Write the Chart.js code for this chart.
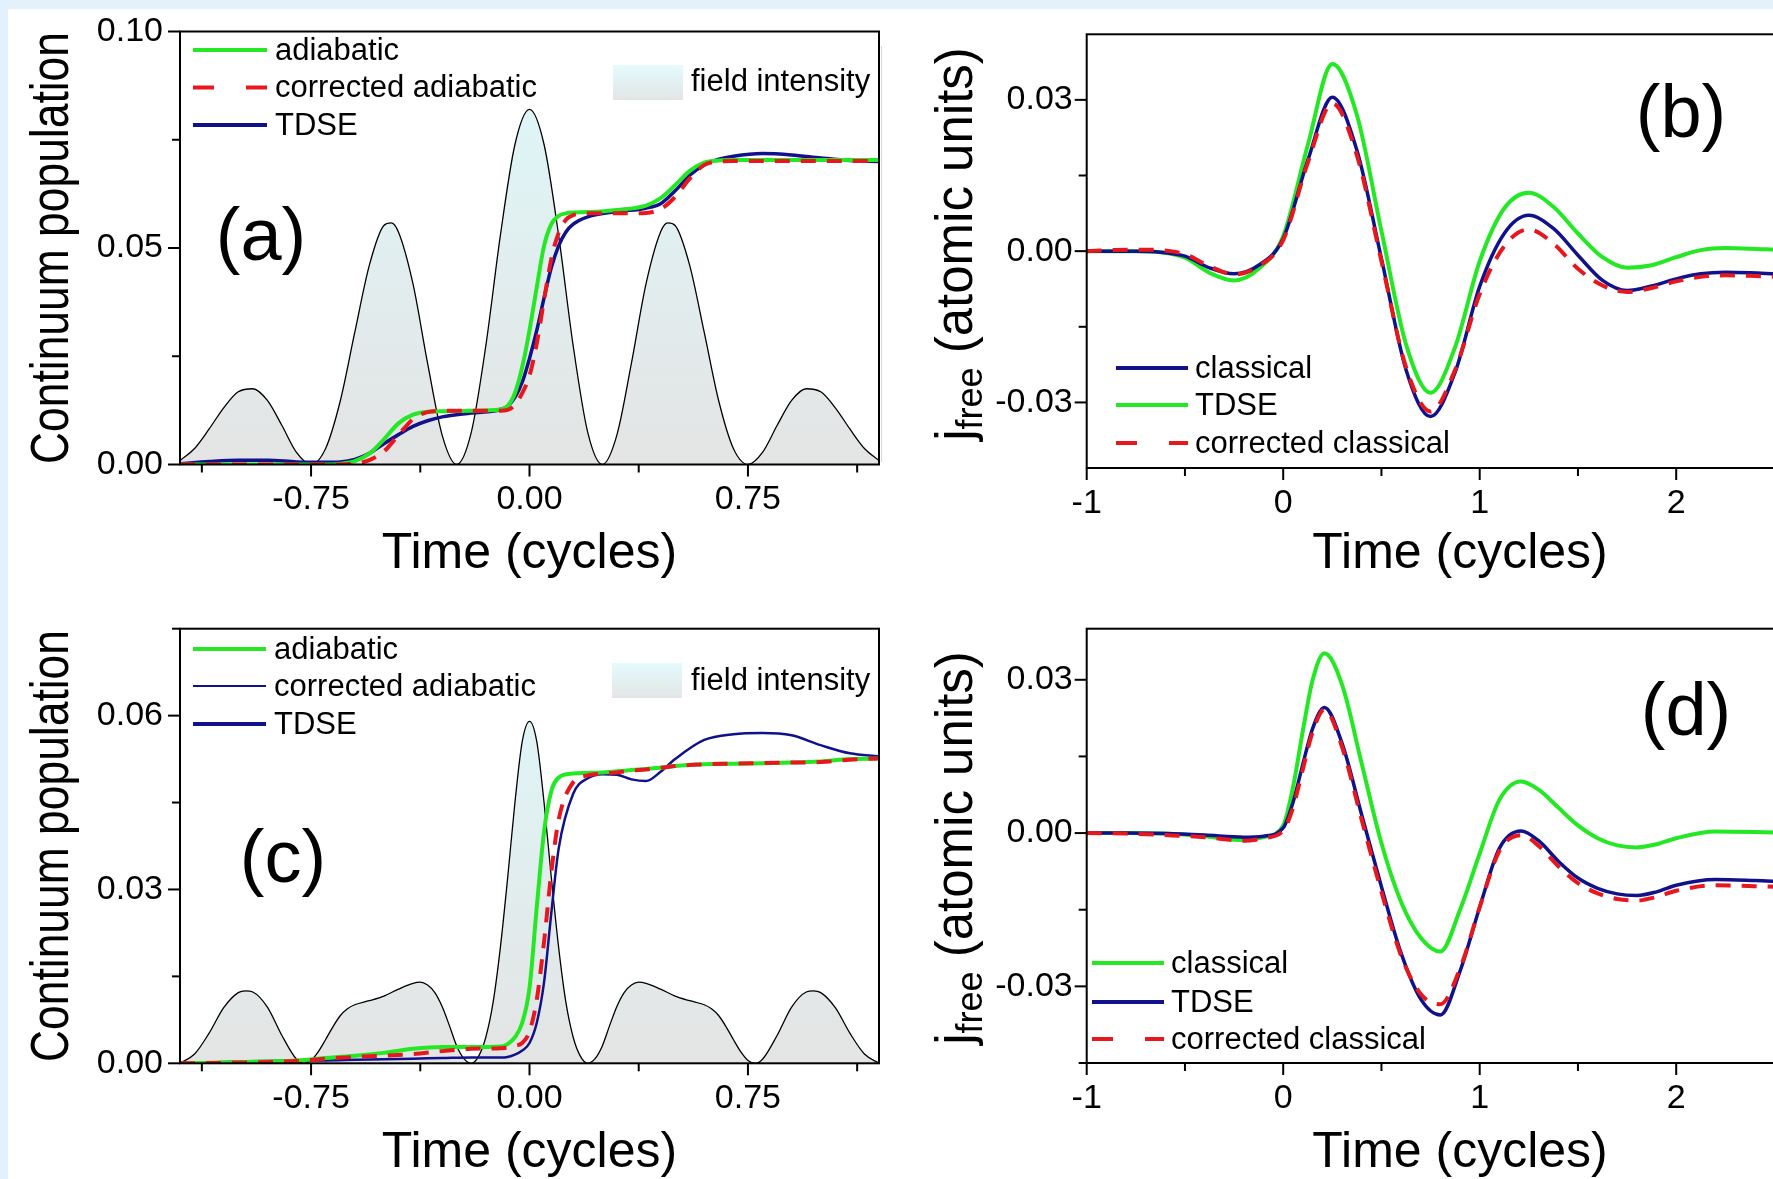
<!DOCTYPE html>
<html>
<head>
<meta charset="utf-8">
<title>Continuum population and free-electron current</title>
<script src="https://cdn.jsdelivr.net/npm/chart.js@4.4.1/dist/chart.umd.min.js"></script>
<style>
  html, body { margin:0; padding:0; }
  body { width:1773px; height:1179px; overflow:hidden; position:relative; background:#e2f1fb; }
  #paper { position:absolute; left:8px; top:9px; right:0; bottom:0; background:#ffffff; }
  #edge { position:absolute; left:881px; top:46px; width:1px; height:416px; background:#d8d8d8; }
  canvas { position:absolute; }
</style>
</head>
<body>
<div id="paper"></div>
<div id="edge"></div>
<canvas id="panelA" width="900" height="590" style="left:0px;top:0px"></canvas>
<canvas id="panelB" width="970" height="590" style="left:880px;top:0px"></canvas>
<canvas id="panelC" width="900" height="600" style="left:0px;top:590px"></canvas>
<canvas id="panelD" width="970" height="600" style="left:880px;top:590px"></canvas>
<script>
// ================= DATA =================
// ---- panel (a): continuum population ----
const timeA = [-1.2,-1.1,-1.0,-0.9,-0.8,-0.7,-0.65,-0.6,-0.55,-0.5,-0.45,-0.4,-0.35,-0.3,-0.2,-0.1,-0.075,-0.05,-0.025,0,0.025,0.05,0.075,0.1,0.125,0.15,0.2,0.3,0.4,0.45,0.5,0.55,0.6,0.65,0.7,0.8,0.9,1.0,1.1,1.2];
const adiabaticA = [0,0,0,0,0,0,0.0002,0.0008,0.0025,0.0058,0.0095,0.0115,0.0122,0.0123,0.0124,0.0127,0.0135,0.0165,0.0225,0.031,0.041,0.0505,0.0555,0.0574,0.058,0.0582,0.0583,0.0588,0.0598,0.0615,0.0645,0.0678,0.0697,0.0702,0.0703,0.0703,0.0703,0.0703,0.0703,0.0703];
const correctedAdiabaticA = [0,0,0,0,0,0,0,0.0002,0.001,0.003,0.0068,0.0105,0.0121,0.0124,0.0124,0.0124,0.0126,0.0138,0.0165,0.0205,0.028,0.038,0.0475,0.0535,0.0565,0.0576,0.058,0.058,0.0581,0.059,0.0618,0.066,0.0692,0.07,0.0701,0.0701,0.0701,0.0701,0.0701,0.0701];
const tdseA = [0.0002,0.0007,0.001,0.001,0.0006,0.0005,0.0006,0.0012,0.0026,0.0048,0.0069,0.0088,0.0101,0.011,0.0119,0.0127,0.0135,0.0155,0.019,0.0245,0.031,0.0385,0.0455,0.0505,0.0537,0.0555,0.0572,0.0584,0.0592,0.0602,0.0632,0.0668,0.0692,0.0705,0.0712,0.0718,0.0715,0.0708,0.0702,0.07];
const fieldTimeA = [-1.2,-1.15,-1.1,-1.05,-1.0,-0.95,-0.9,-0.85,-0.8,-0.75,-0.7,-0.65,-0.6,-0.55,-0.5,-0.475,-0.45,-0.4,-0.35,-0.3,-0.25,-0.2,-0.15,-0.1,-0.05,0,0.05,0.1,0.15,0.2,0.25,0.3,0.35,0.4,0.45,0.475,0.5,0.55,0.6,0.65,0.7,0.75,0.8,0.85,0.9,0.95,1.0,1.05,1.1,1.15,1.2];
const fieldA = [0.0009,0.0037,0.0082,0.0131,0.0168,0.0175,0.0148,0.009,0.0028,0,0.0037,0.0146,0.0305,0.046,0.0552,0.0558,0.0537,0.0417,0.0234,0.0068,0,0.0074,0.0274,0.0529,0.0739,0.082,0.0739,0.0529,0.0274,0.0074,0,0.0068,0.0234,0.0417,0.0537,0.0558,0.0552,0.046,0.0305,0.0146,0.0037,0,0.0028,0.009,0.0148,0.0175,0.0168,0.0131,0.0082,0.0037,0.0009];

// ---- panel (c): continuum population ----
const timeC = [-1.2,-1.0,-0.8,-0.7,-0.6,-0.5,-0.4,-0.3,-0.2,-0.1,-0.075,-0.05,-0.025,0,0.025,0.05,0.075,0.1,0.15,0.2,0.25,0.3,0.35,0.4,0.45,0.5,0.6,0.7,0.8,0.9,1.0,1.1,1.2];
const adiabaticC = [0,0.0002,0.0005,0.0009,0.0013,0.0018,0.0025,0.0028,0.0028,0.0029,0.0033,0.0045,0.007,0.013,0.027,0.040,0.047,0.0493,0.05,0.0501,0.0502,0.0504,0.0506,0.0508,0.051,0.0513,0.0516,0.0517,0.0518,0.0519,0.0521,0.0525,0.0526];
const correctedAdiabaticC = [0,0.0001,0.0004,0.0008,0.0011,0.0013,0.0016,0.0021,0.0025,0.0026,0.0027,0.003,0.0035,0.0055,0.011,0.021,0.033,0.042,0.0485,0.0497,0.05,0.0502,0.0505,0.0507,0.051,0.0513,0.0516,0.0517,0.0518,0.0519,0.052,0.0524,0.0526];
const tdseC = [0,0.0003,0.0005,0.0005,0.0006,0.0007,0.0008,0.0009,0.001,0.001,0.0011,0.0015,0.0022,0.0035,0.007,0.014,0.026,0.037,0.0465,0.0492,0.0499,0.0498,0.049,0.0487,0.0503,0.0525,0.0558,0.0568,0.057,0.0566,0.0549,0.0535,0.053];
const fieldTimeC = [-1.2,-1.15,-1.1,-1.05,-1.0,-0.975,-0.95,-0.9,-0.85,-0.8,-0.775,-0.75,-0.725,-0.7,-0.675,-0.65,-0.625,-0.6,-0.55,-0.5,-0.45,-0.4,-0.375,-0.35,-0.325,-0.3,-0.275,-0.25,-0.225,-0.2,-0.175,-0.15,-0.125,-0.1,-0.075,-0.05,-0.025,0,0.025,0.05,0.075,0.1,0.125,0.15,0.175,0.2,0.225,0.25,0.275,0.3,0.325,0.35,0.375,0.4,0.45,0.5,0.55,0.6,0.625,0.65,0.675,0.7,0.725,0.75,0.775,0.8,0.85,0.9,0.95,0.975,1.0,1.05,1.1,1.15,1.2];
const fieldC = [0,0.0016,0.0052,0.0096,0.0122,0.0125,0.0123,0.0097,0.0048,0.0007,0,0.0005,0.002,0.0041,0.0063,0.0082,0.0094,0.0101,0.0108,0.0116,0.0128,0.0138,0.014,0.0135,0.0122,0.0098,0.0065,0.003,0.0008,0,0.0012,0.0045,0.0105,0.02,0.032,0.045,0.0555,0.059,0.0555,0.045,0.032,0.02,0.0105,0.0045,0.0012,0,0.0008,0.003,0.0065,0.0098,0.0122,0.0135,0.014,0.0138,0.0128,0.0116,0.0108,0.0101,0.0094,0.0082,0.0063,0.0041,0.002,0.0005,0,0.0007,0.0048,0.0097,0.0123,0.0125,0.0122,0.0096,0.0052,0.0016,0];

// ---- panel (b): free current ----
const timeB = [-1,-0.875,-0.75,-0.625,-0.5,-0.375,-0.25,-0.125,0,0.125,0.25,0.375,0.5,0.625,0.75,0.875,1,1.125,1.25,1.375,1.5,1.625,1.75,1.875,2,2.125,2.25,2.375,2.5,2.625,2.75,2.875];
const classicalB = [0,0,0,-0.0002,-0.001,-0.0033,-0.0045,-0.0028,0.0025,0.018,0.0305,0.020,-0.0015,-0.0235,-0.0328,-0.024,-0.007,0.0035,0.0071,0.0045,-0.0008,-0.0058,-0.0078,-0.0069,-0.0055,-0.0045,-0.0042,-0.0043,-0.0045,-0.0047,-0.0048,-0.0049];
const tdseB = [0,0,0,-0.0002,-0.0013,-0.0043,-0.0058,-0.0035,0.003,0.021,0.0371,0.027,0.004,-0.0185,-0.0281,-0.019,-0.002,0.0085,0.0116,0.0088,0.0035,-0.0012,-0.0033,-0.0028,-0.0012,0.0002,0.0006,0.0005,0.0003,0.0001,0,0];
const correctedClassicalB = [0,0.0002,0.0003,0.0002,-0.0006,-0.003,-0.0046,-0.003,0.0022,0.0175,0.0293,0.019,-0.002,-0.023,-0.0318,-0.0235,-0.0085,0.001,0.0043,0.0015,-0.0035,-0.0068,-0.0081,-0.0073,-0.006,-0.0051,-0.0048,-0.0049,-0.0051,-0.0052,-0.0053,-0.0053];

// ---- panel (d): free current ----
const timeD = [-1,-0.8,-0.6,-0.4,-0.2,-0.1,0,0.05,0.1,0.15,0.21,0.3,0.4,0.5,0.6,0.7,0.8,0.9,1.0,1.1,1.21,1.3,1.4,1.5,1.6,1.7,1.8,1.9,2.0,2.2,2.4,2.6,2.8,3.0];
const classicalD = [0,0,-0.0001,-0.0006,-0.0014,-0.0008,0.0015,0.009,0.02,0.030,0.0352,0.029,0.0135,-0.002,-0.0135,-0.0205,-0.0232,-0.015,-0.004,0.0065,0.0101,0.0085,0.005,0.0015,-0.001,-0.0024,-0.0028,-0.0022,-0.001,0.0003,0.0002,0,-0.0001,-0.0001];
const tdseD = [0,0,-0.0001,-0.0004,-0.0008,-0.0006,0.001,0.006,0.0135,0.0205,0.0246,0.0175,0.0035,-0.0105,-0.0235,-0.0325,-0.0356,-0.027,-0.0145,-0.003,0.0004,-0.0015,-0.0055,-0.0088,-0.0108,-0.0119,-0.0122,-0.0115,-0.0102,-0.0091,-0.0093,-0.0096,-0.0097,-0.0098];
const correctedClassicalD = [0,-0.0001,-0.0004,-0.0008,-0.0015,-0.001,0.0005,0.005,0.0125,0.0198,0.0242,0.0168,0.0025,-0.0115,-0.024,-0.0315,-0.0335,-0.0265,-0.0145,-0.0035,-0.0004,-0.0025,-0.0065,-0.0098,-0.0118,-0.0129,-0.0132,-0.0125,-0.0113,-0.0102,-0.0104,-0.0106,-0.0107,-0.0107];

// ---- axes: ranges, tick positions, labelled ticks ----
const popXRange = [-1.2, 1.2];
const popXTicks = [-1.125, -0.75, -0.375, 0, 0.375, 0.75, 1.125];
const popXLabelStep = 0.75;
const popYRangeA = [0, 0.10];
const popYTicksA = [0, 0.025, 0.05, 0.075, 0.1];
const popYLabelStepA = 0.05;
const popYRangeC = [0, 0.075];
const popYTicksC = [0, 0.015, 0.03, 0.045, 0.06, 0.075];
const popYLabelStepC = 0.03;
const curXRange = [-1, 2.8];
const curXTicks = [-1, -0.5, 0, 0.5, 1, 1.5, 2, 2.5];
const curXLabelStep = 1;
const curYRangeB = [-0.043, 0.043];
const curYTicksB = [-0.03, -0.015, 0, 0.015, 0.03];
const curYRangeD = [-0.045, 0.04];
const curYTicksD = [-0.045, -0.03, -0.015, 0, 0.015, 0.03];
const curYLabelStep = 0.03;
const xTitle = 'Time (cycles)';
const popYTitle = 'Continuum population';

// ================= STYLE =================
const FONT = '"Liberation Sans", Arial, Helvetica, sans-serif';
const GREEN = '#25e825', RED = '#e8171d', NAVY = '#11118c';
const TICK_FONT = 34;

function pts(t, v) { return t.map((x, i) => ({ x: x, y: v[i] })); }
function lineDs(label, t, v, color, width, dash) {
  return { label: label, data: pts(t, v), borderColor: color, borderWidth: width,
    borderDash: dash || [], pointRadius: 0, fill: false, cubicInterpolationMode: 'monotone',
    borderCapStyle: 'butt', borderJoinStyle: 'round' };
}
function fieldGradient(c) {
  const ch = c.chart, a = ch.chartArea;
  if (!a) return 'rgba(230,240,240,1)';
  const g = ch.ctx.createLinearGradient(0, a.top, 0, a.bottom);
  g.addColorStop(0, '#def9fb'); g.addColorStop(1, '#e4e4e4');
  return g;
}
function fieldDs(t, v) {
  return { label: 'field intensity', data: pts(t, v), borderColor: '#000', borderWidth: 1.3,
    backgroundColor: fieldGradient, fill: 'origin', pointRadius: 0, cubicInterpolationMode: 'monotone' };
}
function every(step, dec) {
  return (v) => Math.abs(v / step - Math.round(v / step)) < 1e-6 ? Number(v).toFixed(dec) : '';
}
function fixedTicks(values) {
  return (scale) => { scale.ticks = values.map(v => ({ value: v })); };
}

const decorPlugin = {
  id: 'decor',
  afterDatasetsDraw(chart, args, o) {
    const { ctx, chartArea: a, scales: { x, y } } = chart;
    ctx.save();
    ctx.strokeStyle = '#000'; ctx.lineWidth = 2; ctx.setLineDash([]);
    ctx.strokeRect(a.left, a.top, a.right - a.left, a.bottom - a.top);
    x.ticks.forEach(t => {
      const p = x.getPixelForValue(t.value), len = t.label ? 12 : 8;
      ctx.beginPath(); ctx.moveTo(p, a.bottom); ctx.lineTo(p, a.bottom + len); ctx.stroke();
    });
    y.ticks.forEach(t => {
      const p = y.getPixelForValue(t.value), len = t.label ? 12 : 8;
      ctx.beginPath(); ctx.moveTo(a.left - len, p); ctx.lineTo(a.left, p); ctx.stroke();
    });
    ctx.fillStyle = '#000';
    ctx.textBaseline = 'middle'; ctx.textAlign = 'left';
    (o.legend || []).forEach(it => {
      const ds = chart.data.datasets[it.ds];
      ctx.save();
      ctx.strokeStyle = it.color || ds.borderColor;
      ctx.lineWidth = it.width || ds.borderWidth;
      ctx.setLineDash(it.dash || []);
      ctx.beginPath(); ctx.moveTo(it.x0, it.y); ctx.lineTo(it.x1, it.y); ctx.stroke();
      ctx.restore();
      ctx.font = '31px ' + FONT;
      ctx.fillText(ds.label, it.tx, it.y + 1);
    });
    if (o.field) {
      const f = o.field, ds = chart.data.datasets[f.ds];
      const g = ctx.createLinearGradient(0, f.y, 0, f.y + f.h);
      g.addColorStop(0, '#e4fbfd'); g.addColorStop(1, '#e3e5e5');
      ctx.fillStyle = g; ctx.fillRect(f.x, f.y, f.w, f.h);
      ctx.fillStyle = '#000'; ctx.font = '31px ' + FONT;
      ctx.fillText(ds.label, f.tx, f.ty);
    }
    if (o.label) {
      ctx.font = '74px ' + FONT; ctx.textAlign = 'center'; ctx.fillStyle = '#000';
      ctx.fillText(o.label.text, o.label.x, o.label.y);
    }
    if (o.yTitle) {
      const t = o.yTitle;
      ctx.save();
      ctx.translate(t.x, (a.top + a.bottom) / 2);
      ctx.rotate(-Math.PI / 2);
      ctx.font = t.size + 'px ' + FONT;
      const w = ctx.measureText(t.text).width;
      ctx.scale(t.length / w, 1);
      ctx.textAlign = 'center'; ctx.textBaseline = 'middle';
      ctx.fillText(t.text, 0, 0);
      ctx.restore();
    }
    if (o.jfree) {
      const j = o.jfree;
      ctx.translate(j.x, j.y); ctx.rotate(-Math.PI / 2);
      ctx.textAlign = 'left'; ctx.textBaseline = 'alphabetic';
      const big = '51px ' + FONT, small = '36px ' + FONT;
      ctx.font = big; const wj = ctx.measureText('j').width; const wr = ctx.measureText(' (atomic units)').width;
      ctx.font = small; const wf = ctx.measureText('free').width;
      let px = -(wj + wf + wr) / 2; const base = 18;
      ctx.font = big; ctx.fillText('j', px, base); px += wj;
      ctx.font = small; ctx.fillText('free', px, base + 10); px += wf;
      ctx.font = big; ctx.fillText(' (atomic units)', px, base);
    }
    ctx.restore();
  }
};

function makeChart(id, c) {
  return new Chart(document.getElementById(id), {
    type: 'line',
    data: { datasets: c.datasets },
    options: {
      responsive: false, animation: false, events: [],
      layout: { padding: c.padding },
      plugins: { legend: { display: false }, tooltip: { enabled: false }, decor: c.decor },
      scales: {
        x: {
          type: 'linear', position: 'bottom', min: c.xRange[0], max: c.xRange[1], bounds: 'data',
          afterBuildTicks: fixedTicks(c.xTicks),
          afterFit: (s) => { s.height = c.xH; s.paddingLeft = 0; s.paddingRight = 0; },
          grid: { display: false, drawTicks: false }, border: { display: false },
          ticks: { autoSkip: false, maxRotation: 0, minRotation: 0,
            padding: 15, color: '#000', font: { family: FONT, size: TICK_FONT }, callback: c.xLabel },
          title: { display: true, text: xTitle, color: '#000', font: { family: FONT, size: 50 },
            padding: { top: 0, bottom: c.xTitlePad } }
        },
        y: {
          type: 'linear', position: 'left', min: c.yRange[0], max: c.yRange[1], bounds: 'data',
          afterBuildTicks: fixedTicks(c.yTicks),
          afterFit: (s) => { s.width = c.yW; s.paddingTop = 0; s.paddingBottom = 0; },
          grid: { display: false, drawTicks: false }, border: { display: false },
          ticks: { autoSkip: false,
            padding: c.yPad, color: '#000', font: { family: FONT, size: TICK_FONT }, callback: c.yLabel },
          title: { display: false }
        }
      }
    },
    plugins: [decorPlugin]
  });
}

const dashPlot = [15, 11], dashLegend = [21, 32];

// (a)
makeChart('panelA', {
  datasets: [
    lineDs('corrected adiabatic', timeA, correctedAdiabaticA, RED, 4, dashPlot),
    lineDs('adiabatic', timeA, adiabaticA, GREEN, 4),
    lineDs('TDSE', timeA, tdseA, NAVY, 3.5),
    fieldDs(fieldTimeA, fieldA)
  ],
  padding: { left: 0, right: 21, top: 31.5, bottom: 0 },
  xRange: popXRange, xTicks: popXTicks, xLabel: every(popXLabelStep, 2), xH: 125.5, xTitlePad: 6,
  yRange: popYRangeA, yTicks: popYTicksA, yLabel: every(popYLabelStepA, 2), yW: 180, yPad: 17,
  decor: {
    legend: [
      { ds: 1, x0: 193, x1: 267, tx: 275, y: 50 },
      { ds: 0, x0: 193, x1: 267, tx: 275, y: 87.5, dash: dashLegend },
      { ds: 2, x0: 193, x1: 267, tx: 275, y: 125, width: 4 }
    ],
    field: { ds: 3, x: 613, y: 65, w: 70, h: 35, tx: 691, ty: 82 },
    label: { text: '(a)', x: 261, y: 240 },
    yTitle: { text: popYTitle, x: 53, size: 54, length: 432 }
  }
});

// (c)
makeChart('panelC', {
  datasets: [
    lineDs('corrected adiabatic', timeC, correctedAdiabaticC, RED, 4, dashPlot),
    lineDs('adiabatic', timeC, adiabaticC, GREEN, 4),
    lineDs('TDSE', timeC, tdseC, NAVY, 2.5),
    fieldDs(fieldTimeC, fieldC)
  ],
  padding: { left: 0, right: 21, top: 38.7, bottom: 0 },
  xRange: popXRange, xTicks: popXTicks, xLabel: every(popXLabelStep, 2), xH: 126.7, xTitlePad: 7,
  yRange: popYRangeC, yTicks: popYTicksC, yLabel: every(popYLabelStepC, 2), yW: 180, yPad: 17,
  decor: {
    legend: [
      { ds: 1, x0: 193, x1: 266, tx: 274, y: 59 },
      { ds: 0, x0: 193, x1: 266, tx: 274, y: 96, color: NAVY, width: 2.2 },
      { ds: 2, x0: 193, x1: 266, tx: 274, y: 134, width: 4 }
    ],
    field: { ds: 3, x: 612, y: 73, w: 70, h: 35, tx: 691, ty: 91 },
    label: { text: '(c)', x: 283, y: 272 },
    yTitle: { text: popYTitle, x: 53, size: 54, length: 432 }
  }
});

// (b)
makeChart('panelB', {
  datasets: [
    lineDs('corrected classical', timeB, correctedClassicalB, RED, 4, dashPlot),
    lineDs('classical', timeB, classicalB, NAVY, 3.5),
    lineDs('TDSE', timeB, tdseB, GREEN, 4)
  ],
  padding: { left: 0, right: 16.6, top: 34.3, bottom: 0 },
  xRange: curXRange, xTicks: curXTicks, xLabel: every(curXLabelStep, 0), xH: 122, xTitlePad: 6,
  yRange: curYRangeB, yTicks: curYTicksB, yLabel: every(curYLabelStep, 2), yW: 206.7, yPad: 14,
  decor: {
    legend: [
      { ds: 1, x0: 236, x1: 308, tx: 315, y: 368, width: 4 },
      { ds: 2, x0: 236, x1: 308, tx: 315, y: 405 },
      { ds: 0, x0: 236, x1: 308, tx: 315, y: 443, dash: dashLegend }
    ],
    label: { text: '(b)', x: 801, y: 117 },
    jfree: { x: 74, y: 244 }
  }
});

// (d)
makeChart('panelD', {
  datasets: [
    lineDs('corrected classical', timeD, correctedClassicalD, RED, 4, dashPlot),
    lineDs('TDSE', timeD, tdseD, NAVY, 3.5),
    lineDs('classical', timeD, classicalD, GREEN, 4)
  ],
  padding: { left: 0, right: 16.6, top: 38.7, bottom: 0 },
  xRange: curXRange, xTicks: curXTicks, xLabel: every(curXLabelStep, 0), xH: 127, xTitlePad: 7,
  yRange: curYRangeD, yTicks: curYTicksD, yLabel: every(curYLabelStep, 2), yW: 206.7, yPad: 14,
  decor: {
    legend: [
      { ds: 2, x0: 212, x1: 284, tx: 291, y: 373 },
      { ds: 1, x0: 212, x1: 284, tx: 291, y: 412, width: 4 },
      { ds: 0, x0: 212, x1: 284, tx: 291, y: 449, dash: dashLegend }
    ],
    label: { text: '(d)', x: 806, y: 125 },
    jfree: { x: 74, y: 258 }
  }
});
</script>
</body>
</html>
